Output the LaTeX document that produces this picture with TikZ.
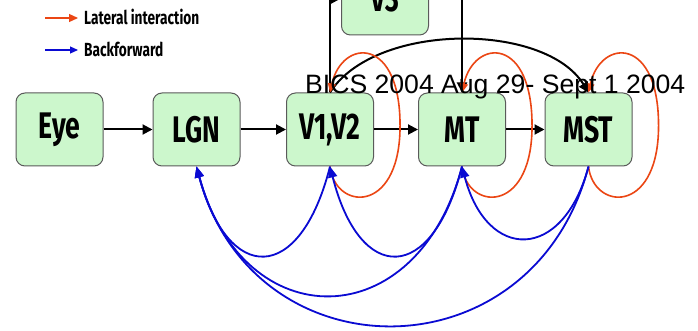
\documentclass[tikz,border=0pt]{standalone}
\usepackage{graphicx}
\usepackage{fontspec}
\setmainfont{Fira Sans}
\newfontfamily\arialfont{Liberation Sans}
\usetikzlibrary{arrows.meta}
\definecolor{boxfill}{RGB}{204,247,204}
\definecolor{boxline}{RGB}{90,90,90}
\definecolor{latred}{RGB}{235,70,20}
\definecolor{backblue}{RGB}{10,10,210}
\newcommand{\narrowtxt}[1]{\scalebox{0.72}[1]{#1}}
\begin{document}
\begin{tikzpicture}[x=1pt,y=-1pt,
  area/.style={draw=boxline, line width=1pt, fill=boxfill, rounded corners=9pt,
    minimum width=87pt, minimum height=73pt, inner sep=0pt,
    font=\fontsize{37}{37}\selectfont\bfseries},
  fwd/.style={draw=black, line width=2pt, -{Triangle[length=10pt,width=10pt]}},
  lat/.style={draw=latred, line width=1.6pt, -{Triangle[length=9pt,width=8pt]}},
  back/.style={draw=backblue, line width=1.8pt, -{Triangle[length=11pt,width=9pt]}},
  legtxt/.style={anchor=west, font=\fontsize{19}{19}\selectfont\bfseries, inner sep=0pt}
]
\clip (0,0) rectangle (698,331);
\fill[white] (0,0) rectangle (698,331);

% legend
\coordinate (lg1s) at (45,18);
\coordinate (lg1e) at (78,18);
\draw[lat, line width=1.2pt] (lg1s) -- (lg1e);
\node[legtxt] (lg1) at (84,17) {\narrowtxt{Lateral interaction}};
\coordinate (lg2s) at (45,50);
\coordinate (lg2e) at (78,50);
\draw[back, line width=1.2pt, -{Triangle[length=8pt,width=7pt]}] (lg2s) -- (lg2e);
\node[legtxt] (lg2) at (84,49) {\narrowtxt{Backforward}};

% boxes
\node[area] (eye) at (59.5,129.5) {\narrowtxt{Eye}};
\node[area] (lgn) at (196.5,129.5) {\narrowtxt{LGN}};
\node[area] (v12) at (330,129.5) {\narrowtxt{V1,V2}};
\node[area] (mt)  at (462,129.5) {\narrowtxt{MT}};
\node[area] (mst) at (588.5,129.5) {\narrowtxt{MST}};
\node[area] (v3)  at (385,-1.5) {\narrowtxt{V3}};

% forward arrows
\draw[fwd] (eye) -- (lgn);
\draw[fwd] (lgn) -- (v12);
\draw[fwd] (v12) -- (mt);
\draw[fwd] (mt) -- (mst);
\draw[fwd] (v12.north) |- (v3.west);
\draw[fwd] (v3.east) -| (mt.north);
\draw[fwd] (v12.north) .. controls (375,22) and (545,22) .. (mst.north);

% lateral loops
\draw[lat] (v12.south) .. controls (335,210) and (398,215) .. (400,130) .. controls (402,35) and (342,38) .. (v12.north);
\draw[lat] (mt.south) .. controls (467,210) and (530,215) .. (532,130) .. controls (534,35) and (474,38) .. (mt.north);
\draw[lat] (mst.south) .. controls (593.5,210) and (656.5,215) .. (658.5,130) .. controls (660.5,35) and (600.5,38) .. (mst.north);

% backward curves
\draw[back] (v12.south) .. controls (300,285) and (228,285) .. (lgn.south);
\draw[back] (mt.south) .. controls (432,285) and (360,285) .. (v12.south);
\draw[back] (mst.south) .. controls (563,262) and (487,262) .. (mt.south);
\draw[back] (mt.south) .. controls (417,338) and (243,338) .. (lgn.south);
\draw[back] (mst.south) .. controls (533,378) and (253,378) .. (lgn.south);

% header
\node[anchor=base west, inner sep=0pt, font=\arialfont\fontsize{26.6}{26.6}\selectfont] (hdr) at (305,94) {BICS 2004 Aug 29- Sept 1 2004};
\end{tikzpicture}
\end{document}
